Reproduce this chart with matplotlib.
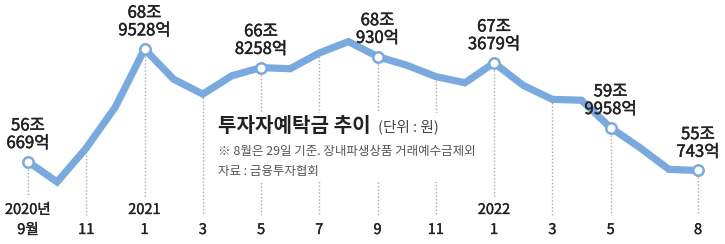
import numpy as np
import matplotlib
matplotlib.use('Agg')
import matplotlib.pyplot as plt
import matplotlib.patheffects as pe
from matplotlib.patches import Rectangle

plt.rcParams['font.family'] = ['Noto Sans CJK KR', 'DejaVu Sans']

# monthly investor deposits, 2020.9 ~ 2022.8 (unit: 조 won)
values = [56.07, 53.76, 57.64, 62.33, 68.95, 65.5, 63.8, 65.9,
          66.83, 66.7, 68.5, 69.8, 68.09, 67.1, 65.8, 65.1,
          67.37, 64.8, 63.2, 63.1, 59.96, 57.7, 55.2, 55.07]

# labelled points (index into values) and their texts
label_idx = [0, 4, 8, 12, 16, 20, 23]
label_txt = ['56조\n669억', '68조\n9528억', '66조\n8258억', '68조\n930억',
             '67조\n3679억', '59조\n9958억', '55조\n743억']

# x ticks with dotted guides
tick_idx = [0, 2, 4, 6, 8, 10, 12, 14, 16, 18, 20, 23]
tick_month = ['9월', '11', '1', '3', '5', '7', '9', '11', '1', '3', '5', '8']
year_idx = [0, 4, 16]
year_txt = ['2020년', '2021', '2022']

W, H = 725, 244
fig = plt.figure(figsize=(W / 100, H / 100), dpi=100)
ax = fig.add_axes([0, 0, 1, 1])
ax.axis('off')

px = 670 / 23
ax.set_xlim(-28 / px, 23 + 27 / px)
py = 8.75
ax.set_ylim(55.07 - 73.5 / py, 55.07 + 170.5 / py)

x = np.arange(len(values))
line_col = '#7aaadd'
# slightly heavier text, like a medium weight
heavy = [pe.withStroke(linewidth=0.35, foreground='#222222')]
light = [pe.withStroke(linewidth=0.25, foreground='#222222')]

# dotted guides from the point down to the tick labels
for i in tick_idx:
    end_px = 197 if i in year_idx else 215
    y_end = 55.07 - (end_px - 170.5) / py
    ax.plot([i, i], [values[i], y_end], color='#a8a8a8', lw=1.0,
            ls=(0, (1, 1.5)), zorder=1)

# white box behind the title block
ax.add_patch(Rectangle((212 / W, 1 - 182 / H), (486 - 212) / W, (182 - 113) / H,
                       transform=ax.transAxes, facecolor='white',
                       edgecolor='none', zorder=2))

ax.plot(x, values, color=line_col, lw=5.2, solid_joinstyle='miter',
        solid_capstyle='butt', zorder=3)
ax.plot(x[label_idx], np.array(values)[label_idx], 'o', ms=7.5,
        mfc='white', mec=line_col, mew=1.8, zorder=4)

for i, t in zip(label_idx, label_txt):
    ax.annotate(t, (i, values[i]), xytext=(0, 7), textcoords='offset points',
                ha='center', va='bottom', fontsize=12, color='#222222',
                linespacing=1.05, zorder=5, path_effects=heavy)

tr = ax.get_xaxis_transform()
for i, t in zip(tick_idx, tick_month):
    ax.text(i, 1 - 230 / H, t, transform=tr, ha='center', va='center',
            fontsize=10.5, color='#222222', path_effects=light)
for i, t in zip(year_idx, year_txt):
    ax.text(i, 1 - 210 / H, t, transform=tr, ha='center', va='center',
            fontsize=10.5, color='#222222', path_effects=light)

ta = ax.transAxes
ax.text(218 / W, 1 - 126 / H, '투자자예탁금 추이', transform=ta, ha='left',
        va='center', fontsize=14.5, fontweight='bold', color='#222222', zorder=6)
ax.text(378 / W, 1 - 127 / H, '(단위 : 원)', transform=ta, ha='left',
        va='center', fontsize=10.5, color='#444444', zorder=6)
ax.text(218 / W, 1 - 152 / H, '※ 8월은 29일 기준. 장내파생상품 거래예수금제외',
        transform=ta, ha='left', va='center', fontsize=9, color='#555555',
        zorder=6)
ax.text(218 / W, 1 - 171 / H, '자료 : 금융투자협회', transform=ta, ha='left',
        va='center', fontsize=9, color='#555555', zorder=6)

fig.savefig('out.png', dpi=100, facecolor='white')
